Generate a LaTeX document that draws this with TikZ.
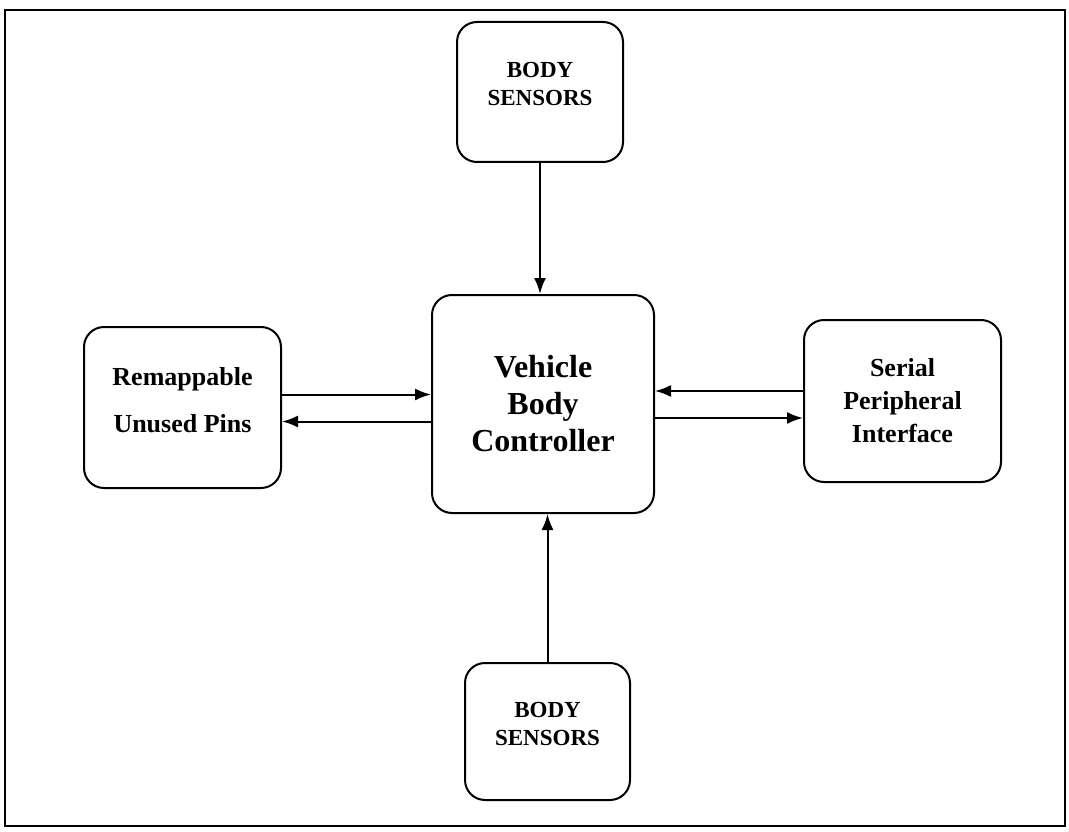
\documentclass[tikz,border=0pt]{standalone}
\usepackage{fontspec}
\setmainfont{Liberation Serif}
\usetikzlibrary{arrows.meta, positioning, calc}
\tikzset{
  blockbox/.style={draw=black, line width=2pt, rounded corners=20pt,
    inner sep=0pt},
  blocktxt/.style={align=center, font=\bfseries, inner sep=0pt},
  flow/.style={line width=2pt, -{Latex[length=16pt, width=12pt]}}
}
\begin{document}
\begin{tikzpicture}[x=1pt, y=-1pt]
  \useasboundingbox (0,0) rectangle (1069,832);
  % outer frame
  \draw[line width=2.4pt] (5,10) rectangle (1065,826);
  % blocks
  \node[blockbox, minimum width=166pt, minimum height=140pt] (topsens) at (540,92) {};
  \node[blockbox, minimum width=222pt, minimum height=218pt] (vbc) at (543,404) {};
  \node[blockbox, minimum width=197pt, minimum height=161pt] (remap) at (182.5,407.5) {};
  \node[blockbox, minimum width=197pt, minimum height=162pt] (spi) at (902.5,401) {};
  \node[blockbox, minimum width=165pt, minimum height=137pt] (botsens) at (547.5,731.5) {};
  % texts
  \node[blocktxt, font=\fontsize{23}{28}\selectfont\bfseries] (topsenstxt)
       at ($(topsens.center)+(0,-8)$) {BODY\\SENSORS};
  \node[blocktxt, font=\fontsize{32}{37}\selectfont\bfseries] (vbctxt)
       at (vbc.center) {Vehicle\\Body\\Controller};
  \node[blocktxt, font=\fontsize{26}{47}\selectfont\bfseries] (remaptxt)
       at ($(remap.center)+(0,-7)$) {Remappable\\Unused Pins};
  \node[blocktxt, font=\fontsize{26}{33}\selectfont\bfseries] (spitxt)
       at (spi.center) {Serial\\Peripheral\\Interface};
  \node[blocktxt, font=\fontsize{23}{28}\selectfont\bfseries] (botsenstxt)
       at ($(botsens.center)+(0,-8)$) {BODY\\SENSORS};
  % connectors
  \draw[flow] (topsens.south) -- (topsens.south |- vbc.north);
  \draw[flow] (botsens.north) -- (botsens.north |- vbc.south);
  \coordinate (rmout) at ($(remap.east)+(0,-13)$);
  \coordinate (rmin) at ($(remap.east)+(0,14)$);
  \draw[flow] (rmout) -- (rmout -| vbc.west);
  \draw[flow] (rmin -| vbc.west) -- (rmin);
  \coordinate (spiout) at ($(spi.west)+(0,-10)$);
  \coordinate (spiin) at ($(spi.west)+(0,17)$);
  \draw[flow] (spiout) -- (spiout -| vbc.east);
  \draw[flow] (spiin -| vbc.east) -- (spiin);
\end{tikzpicture}
\end{document}
